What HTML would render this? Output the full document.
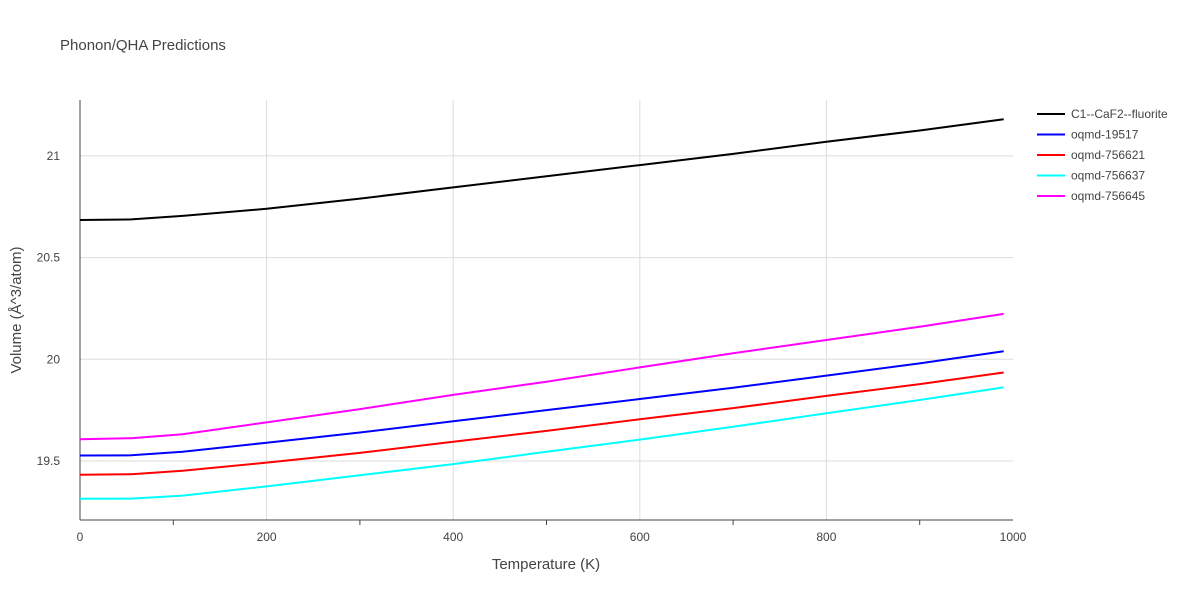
<!DOCTYPE html>
<html><head><meta charset="utf-8"><style>
body{margin:0;background:#fff;font-family:"Liberation Sans",sans-serif;}
svg text{font-family:"Liberation Sans",sans-serif;fill:#444;}
</style></head><body>
<svg width="1200" height="600" id="chart">
<text x="60" y="50" font-size="15" fill="#444">Phonon/QHA Predictions</text>
<g id="grid"></g><g id="axes"></g><g id="series"></g><g id="legend"></g>
<text x="546" y="569" font-size="15" text-anchor="middle">Temperature (K)</text>
<text transform="translate(21,310) rotate(-90)" font-size="15" text-anchor="middle">Volume (Å^3/atom)</text>
</svg>
<script>
const xTicks=[0,200,400,600,800,1000];
const yTicks=[19.5,20,20.5,21];
const yTickLabels=["19.5","20","20.5","21"];
const temps=[0,55,110,200,300,400,500,600,700,800,900,990];
const seriesNames=["C1--CaF2--fluorite","oqmd-19517","oqmd-756621","oqmd-756637","oqmd-756645"];
const seriesColors=["#000000","#0000ff","#ff0000","#00ffff","#ff00ff"];
const vBlack=[20.685,20.688,20.705,20.74,20.79,20.845,20.9,20.955,21.01,21.07,21.125,21.18];
const vBlue=[19.527,19.528,19.545,19.59,19.64,19.695,19.75,19.805,19.86,19.92,19.98,20.04];
const vRed=[19.432,19.435,19.452,19.492,19.54,19.595,19.648,19.705,19.76,19.82,19.878,19.935];
const vCyan=[19.314,19.315,19.33,19.375,19.43,19.485,19.545,19.605,19.668,19.735,19.8,19.862];
const vMagenta=[19.607,19.612,19.632,19.69,19.755,19.825,19.89,19.96,20.03,20.095,20.16,20.223];
const allSeries=[vBlack,vBlue,vRed,vCyan,vMagenta];
const NS="http://www.w3.org/2000/svg";
const L=80,R=1013,T=100,B=520;
const xS=v=>L+(v-0)/(1000-0)*(R-L);
const yS=v=>461-(v-19.5)*203.4;
function mk(tag,attrs,parent){const e=document.createElementNS(NS,tag);for(const k in attrs)e.setAttribute(k,attrs[k]);parent.appendChild(e);return e;}
const grid=document.getElementById('grid'),axes=document.getElementById('axes'),ser=document.getElementById('series'),leg=document.getElementById('legend');
xTicks.forEach(t=>{
 if(t>0&&t<1000){const g=mk('line',{x1:xS(t),x2:xS(t),y1:T,y2:B,stroke:'#ddd','stroke-width':1},grid);
 
 }
 const tx=mk('text',{x:xS(t),y:B+21,'font-size':12,'text-anchor':'middle'},axes);tx.textContent=t;
 
 
});
for(let t=100;t<1000;t+=200){const m=mk('line',{x1:xS(t),x2:xS(t),y1:B,y2:B+5,stroke:'#444'},axes);
 
 }
yTicks.forEach((t,i)=>{
 const g=mk('line',{x1:L,x2:R,y1:yS(t),y2:yS(t),stroke:'#ddd','stroke-width':1},grid);
 
 
 const tx=mk('text',{x:L-20,y:yS(t)+4,'font-size':12,'text-anchor':'end'},axes);tx.textContent=yTickLabels[i];
 
 
});
const xa=mk('line',{x1:L,x2:R,y1:B,y2:B,stroke:'#444'},axes);


const ya=mk('line',{x1:L,x2:L,y1:T,y2:B,stroke:'#444'},axes);


allSeries.forEach((vals,i)=>{
 const d=vals.map((v,j)=>(j?'L':'M')+xS(temps[j]).toFixed(1)+','+yS(v).toFixed(1)).join(' ');
 const p=mk('path',{d:d,fill:'none',stroke:seriesColors[i],'stroke-width':2},ser);
 
 
 const y=114+i*20.5;
 const g=mk('g',{},leg);
 
 
 mk('line',{x1:1037,x2:1065,y1:y,y2:y,stroke:seriesColors[i],'stroke-width':2},g);
 const tx=mk('text',{x:1071,y:y+4,'font-size':12},g);tx.textContent=seriesNames[i];
});
</script>
</body></html>
